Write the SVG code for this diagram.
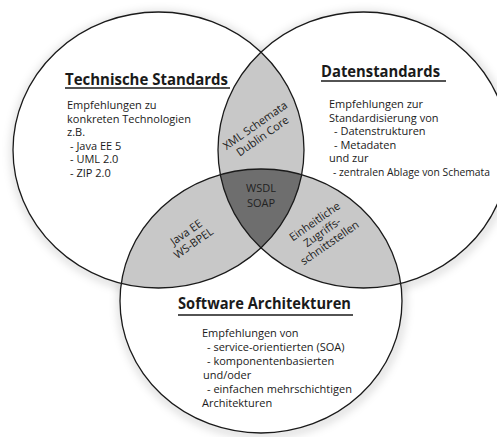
<svg xmlns="http://www.w3.org/2000/svg" width="497" height="437" viewBox="0 0 497 437">
<style>
.title{font-family:"Open Sans","Liberation Sans",sans-serif;font-weight:bold;font-size:16px;fill:#1a1a1a}
.body{font-family:"Open Sans","Liberation Sans",sans-serif;font-size:11px;fill:#1a1a1a}
.lab{font-family:"Open Sans","Liberation Sans",sans-serif;font-size:11px;fill:#222;text-anchor:middle}
.ul{stroke:#1a1a1a;stroke-width:1.3}
.edge{fill:none;stroke:#1a1a1a;stroke-width:1.3}
.shadow{fill:none;stroke:#000;stroke-opacity:0.14;stroke-width:7}
</style>
<defs>
<filter id="blur" x="-20%" y="-20%" width="140%" height="140%"><feGaussianBlur stdDeviation="4"/></filter>
<ellipse id="eL" cx="158.5" cy="150" rx="145.5" ry="138"/>
<ellipse id="eR" cx="363.5" cy="150" rx="145.5" ry="138"/>
<ellipse id="eB" cx="261" cy="301" rx="141" ry="132"/>
<clipPath id="cL"><use href="#eL"/></clipPath>
<clipPath id="cR"><use href="#eR"/></clipPath>
<clipPath id="cB"><use href="#eB"/></clipPath>
</defs>
<rect width="497" height="437" fill="#fff"/>
<g id="shadows" filter="url(#blur)">
<use href="#eL" class="shadow" transform="translate(1,2)"/>
<use href="#eR" class="shadow" transform="translate(1,2)"/>
<use href="#eB" class="shadow" transform="translate(1,2)"/>
</g>
<g id="fills">
<use href="#eL" fill="#fff"/>
<use href="#eR" fill="#fff"/>
<use href="#eB" fill="#fff"/>
<use href="#eL" fill="#c8c8c8" clip-path="url(#cR)"/>
<use href="#eL" fill="#c8c8c8" clip-path="url(#cB)"/>
<use href="#eR" fill="#c8c8c8" clip-path="url(#cB)"/>
<g clip-path="url(#cB)"><use href="#eL" fill="#6e6e6e" clip-path="url(#cR)"/></g>
</g>
<g id="connectors">
<use href="#eL" class="edge"/>
<use href="#eR" class="edge"/>
<use href="#eB" class="edge"/>
</g>
<g id="technische">
<text class="title" x="65" y="85" textLength="163" lengthAdjust="spacingAndGlyphs">Technische Standards</text>
<line class="ul" x1="65" y1="88" x2="230" y2="88"/>
<text class="body" x="67" y="109">Empfehlungen zu</text>
<text class="body" x="67" y="122.5">konkreten Technologien</text>
<text class="body" x="67" y="136">z.B.</text>
<text class="body" x="70" y="149.5">- Java EE 5</text>
<text class="body" x="70" y="163">- UML 2.0</text>
<text class="body" x="70" y="176.5">- ZIP 2.0</text>
</g>
<g id="daten">
<text class="title" x="321" y="77" textLength="119" lengthAdjust="spacingAndGlyphs">Datenstandards</text>
<line class="ul" x1="321" y1="81" x2="446" y2="81"/>
<text class="body" x="329" y="108">Empfehlungen zur</text>
<text class="body" x="329" y="121.5">Standardisierung von</text>
<text class="body" x="334" y="135">- Datenstrukturen</text>
<text class="body" x="334" y="148.5">- Metadaten</text>
<text class="body" x="329" y="162">und zur</text>
<text class="body" x="333" y="175.5" textLength="157" lengthAdjust="spacingAndGlyphs">- zentralen Ablage von Schemata</text>
</g>
<g id="software">
<text class="title" x="178" y="309" textLength="173" lengthAdjust="spacingAndGlyphs">Software Architekturen</text>
<line class="ul" x1="178" y1="315" x2="353" y2="315"/>
<text class="body" x="202" y="337">Empfehlungen von</text>
<text class="body" x="207" y="351">- service-orientierten (SOA)</text>
<text class="body" x="207" y="365">- komponentenbasierten</text>
<text class="body" x="203" y="379">und/oder</text>
<text class="body" x="207" y="393">- einfachen mehrschichtigen</text>
<text class="body" x="202" y="407">Architekturen</text>
</g>
<g id="xml" transform="translate(259,131) rotate(-35)">
<text class="lab" x="0" y="-3">XML Schemata</text>
<text class="lab" x="0" y="10">Dublin Core</text>
</g>
<g id="wsdl">
<text class="lab" x="261" y="192">WSDL</text>
<text class="lab" x="261" y="207">SOAP</text>
</g>
<g id="java" transform="translate(190,238) rotate(-35)">
<text class="lab" x="0" y="-3">Java EE</text>
<text class="lab" x="0" y="10">WS-BPEL</text>
</g>
<g id="einheit" transform="translate(322,232) rotate(-35)">
<text class="lab" x="0" y="-9">Einheitliche</text>
<text class="lab" x="0" y="4">Zugriffs-</text>
<text class="lab" x="0" y="17">schnittstellen</text>
</g>
</svg>
